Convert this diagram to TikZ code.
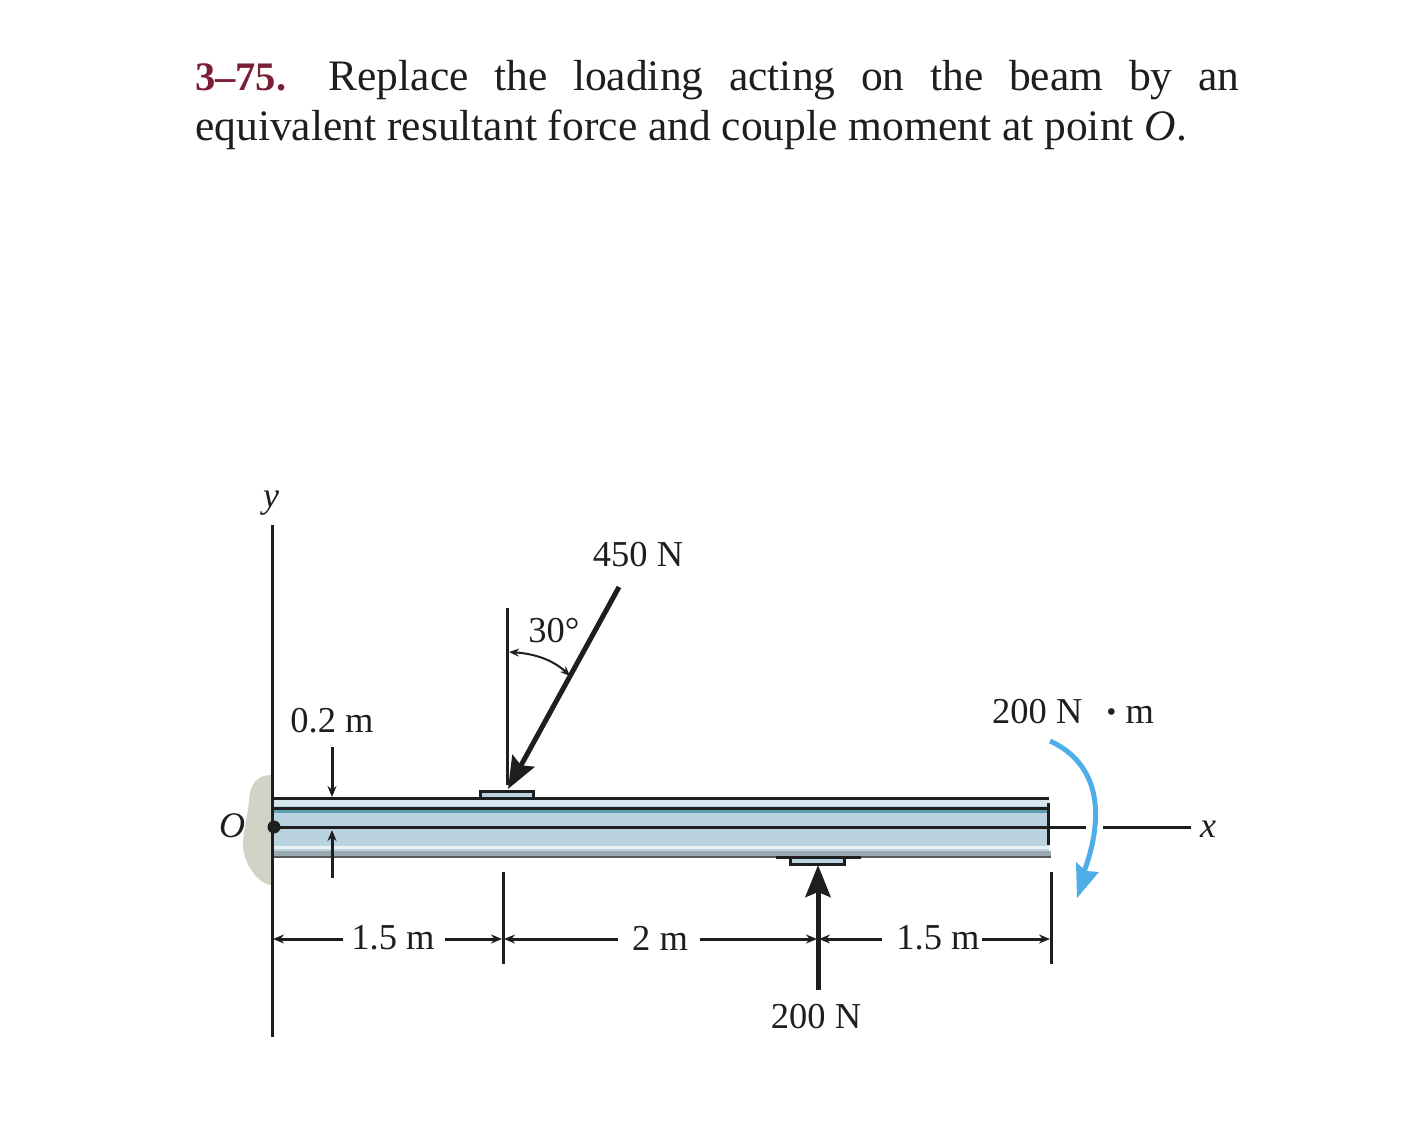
\documentclass[tikz,border=0pt]{standalone}
\usepackage{fontspec}
\setmainfont{Liberation Serif}
\usetikzlibrary{arrows.meta,bending}
\definecolor{beamblue}{HTML}{BAD3E0}
\definecolor{beamlight}{HTML}{D4E5EE}
\definecolor{beamteal}{HTML}{5E9FB0}
\definecolor{beamgrey}{HTML}{9AA8B0}
\definecolor{wallgrey}{HTML}{D2D2C6}
\definecolor{momentblue}{HTML}{4FAEE8}
\definecolor{probred}{HTML}{7A1F35}
\definecolor{ink}{HTML}{1E1E1E}
\tikzset{
  lbl/.style={font=\fontsize{36.5}{36.5}\selectfont, text=ink, inner sep=0pt},
  ital/.style={font=\fontsize{36}{36}\selectfont\itshape, text=ink, inner sep=0pt},
  thin line/.style={draw=ink, line width=3pt},
  dim/.style={draw=ink, line width=3pt, -{Stealth[length=11pt,width=9pt]}},
  force/.style={draw=ink, line width=5pt, -{Stealth[length=32pt,width=25pt,inset=5pt]}},
  beam edge/.style={draw=ink, line width=3pt},
  plate/.style={draw=ink, line width=3pt, fill=beamblue},
}
\begin{document}
\begin{tikzpicture}[x=1pt,y=-1pt]
\useasboundingbox (0,0) rectangle (1427,1135);
% problem statement
\node[anchor=north west, inner sep=0pt, text width=1044pt, align=justify,
      font=\fontsize{43.5}{50}\selectfont, text=ink] (statement) at (195,60)
  {{\fontsize{40.5}{50}\selectfont\bfseries\color{probred}3–75.}\hspace{0.97em}Replace the loading acting on the beam by an\linebreak equivalent resultant force and couple moment at point \textit{O}.};
% wall
\path[fill=wallgrey] (272,775) .. controls (258,775) and (250,783) .. (249,800)
  .. controls (248,815) and (243,830) .. (243,845)
  .. controls (243,862) and (258,885) .. (272,885) -- cycle;
% beam
\fill[beamblue] (272,798) rectangle (1049,857);
\fill[beamlight] (272,800) rectangle (1049,806);
\fill[beamteal] (272,810) rectangle (1049,813);
\fill[white!70!beamblue] (272,846) rectangle (1049,849);
\fill[beamgrey] (272,851) rectangle (1051,857);
% plates
\draw[plate] (480,798) |- (533,791) -- (533,798);
\draw[plate] (790,857) |- (844,864) -- (844,857);
\coordinate (topL) at (272,798); \coordinate (topR) at (1049,798);
\coordinate (flL) at (272,808);  \coordinate (flR) at (1049,808);
\coordinate (ctrO) at (272,827); \coordinate (ctrR) at (1049,827);
\draw[beam edge] (topL) -- (topR);
\draw[beam edge] (flL) -- (flR);
\draw[beam edge] (1048,803) -- (1048,845);
\draw[draw=black!65,line width=2pt] (272,857) -- (1051,857);
\draw[beam edge] (776,857) -- (861,857);
\draw[thin line] (ctrO) -- (ctrR);
% axes
\coordinate (yTop) at (272,525); \coordinate (yBot) at (272,1037);
\draw[thin line] (yTop) -- (yBot);
\coordinate (x1) at (1086,827); \coordinate (x2) at (1103,827); \coordinate (x3) at (1191,827);
\draw[thin line] (ctrR) -- (x1);
\draw[thin line] (x2) -- (x3);
\fill[ink] (274,827) circle (6.5pt);
\node[ital] (O) at (232,826) {O};
\node[ital] (ylab) at (271,503) {y};
\node[ital] (xlab) at (1208,829) {x};
% 0.2 m dimension
\node[lbl] (dimA) at (332,721) {0.2 m};
\coordinate (a1) at (332,747); \coordinate (a2) at (332,797);
\coordinate (b1) at (332,878); \coordinate (b2) at (332,830);
\draw[dim] (a1) -- (a2);
\draw[dim] (b1) -- (b2);
% 450 N force
\coordinate (f1) at (619,587); \coordinate (f1tip) at (508,789);
\coordinate (vTop) at (507,608); \coordinate (vBot) at (507,785);
\draw[thin line] (vTop) -- (vBot);
\draw[force] (f1) -- (f1tip);
\node[lbl] (F1) at (638,555) {450 N};
\node[lbl] (ang) at (554,631) {30°};
\coordinate (ang1) at (570,676); \coordinate (ang2) at (509,652);
\draw[dim,{Stealth[length=10pt,width=8pt]}-{Stealth[length=10pt,width=8pt]}, line width=2pt]
  (ang1) .. controls (555,660) and (535,653) .. (ang2);
% 200 N force
\coordinate (f2) at (818,990); \coordinate (f2tip) at (818,865);
\draw[force] (f2) -- (f2tip);
\node[lbl] (F2) at (816,1017) {200 N};
% couple moment
\node[lbl,anchor=base west] (M) at (992,723) {200 N\hspace{0.55em}\raisebox{-7pt}{\fontsize{56}{56}\selectfont ·}\hspace{0.12em}m};
\coordinate (m1) at (1050,741); \coordinate (m2) at (1084,872);
\draw[draw=momentblue, line width=5pt] (m1) .. controls (1085,757) and (1112,795) .. (m2);
\fill[momentblue] (1077,898) -- (1076,862) -- (1086,871) -- (1099,872) -- cycle;
% horizontal dimensions
\coordinate (t1) at (503,872); \coordinate (t1b) at (503,964);
\coordinate (t2) at (1051,872); \coordinate (t2b) at (1051,964);
\draw[thin line] (t1) -- (t1b);
\draw[thin line] (t2) -- (t2b);
\node[lbl] (d1) at (393,938) {1.5 m};
\node[lbl] (d2) at (660,938) {2 m};
\node[lbl] (d3) at (938,938) {1.5 m};
\coordinate (dL) at (273,939); \coordinate (dA) at (502,939); \coordinate (dB) at (504,939);
\coordinate (dC) at (817,939); \coordinate (dD) at (819,939); \coordinate (dE) at (1050,939);
\draw[dim] (d1.west) ++(-8,1) -- (dL);
\draw[dim] (d1.east) ++(10,1) -- (dA);
\draw[dim] (d2.west) ++(-14,1) -- (dB);
\draw[dim] (d2.east) ++(12,1) -- (dC);
\draw[dim] (d3.west) ++(-14,1) -- (dD);
\draw[dim] (d3.east) ++(2,1) -- (dE);
\end{tikzpicture}
\end{document}
